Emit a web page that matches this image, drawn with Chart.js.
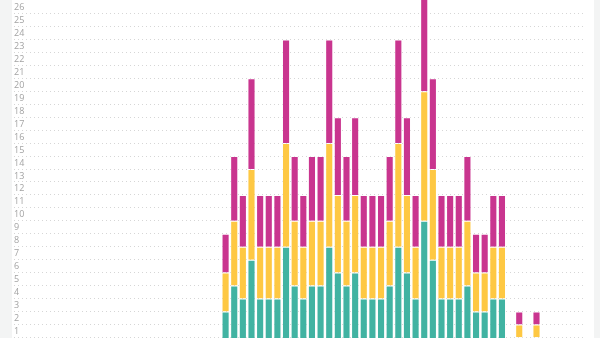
<!DOCTYPE html>
<html>
<head>
<meta charset="utf-8">
<script src="https://cdn.jsdelivr.net/npm/chart.js@4"></script>
<style>
  html, body { margin: 0; padding: 0; background: #f3f4f4; overflow: hidden; width: 600px; height: 338px; }
  #panel { position: absolute; left: 12px; top: 0; width: 582px; height: 338px; background: #fff; overflow: hidden; }
  #wrap { position: absolute; left: 0; top: 0; width: 582px; height: 362px; }
</style>
</head>
<body>
<div id="panel"><div id="wrap"><canvas id="stackChart"></canvas></div></div>
<script>
// 66 slots, first 24 empty
const categories = Array.from({ length: 66 }, (_, i) => 'D' + (i + 1));

const tealValues = [0,0,0,0,0,0,0,0,0,0,0,0,0,0,0,0,0,0,0,0,0,0,0,0,
  3,5,4,7,4,4,4,8,5,4,5,5,8,6,5,6,4,4,4,5,8,6,4,10,7,4,4,4,5,3,3,4,4,0,1,0,1,0,0,0,0,0];
const yellowValues = [0,0,0,0,0,0,0,0,0,0,0,0,0,0,0,0,0,0,0,0,0,0,0,0,
  3,5,4,7,4,4,4,8,5,4,5,5,8,6,5,6,4,4,4,5,8,6,4,10,7,4,4,4,5,3,3,4,4,0,1,0,1,0,0,0,0,0];
const magentaValues = [0,0,0,0,0,0,0,0,0,0,0,0,0,0,0,0,0,0,0,0,0,0,0,0,
  3,5,4,7,4,4,4,8,5,4,5,5,8,6,5,6,4,4,4,5,8,6,4,10,7,4,4,4,5,3,3,4,4,0,1,0,1,0,0,0,0,0];

const yMax = 26;

const ctx = document.getElementById('stackChart').getContext('2d');
new Chart(ctx, {
    type: 'bar',
    data: {
        labels: categories,
        datasets: [
            { label: 'A', data: tealValues, backgroundColor: '#41b3a2' },
            { label: 'B', data: yellowValues, backgroundColor: '#fec843' },
            { label: 'C', data: magentaValues, backgroundColor: '#c9358f' }
        ]
    },
    options: {
        responsive: true,
        maintainAspectRatio: false,
        animation: false,
        layout: { padding: { left: 2, right: 10, top: 13.6, bottom: 11.7 } },
        datasets: {
            bar: {
                categoryPercentage: 1,
                barPercentage: 0.94,
                borderWidth: 1,
                borderColor: 'rgba(255,255,255,0.35)',
                clip: false
            }
        },
        plugins: {
            legend: { display: false },
            tooltip: { enabled: false }
        },
        scales: {
            x: {
                stacked: true,
                display: false
            },
            y: {
                stacked: true,
                min: 0,
                max: yMax,
                grid: { color: '#d6d6d6', drawTicks: false, lineWidth: 1 },
                border: { display: false, dash: [1, 3] },
                ticks: {
                    stepSize: 1,
                    autoSkip: false,
                    mirror: true,
                    padding: 0,
                    labelOffset: -6,
                    color: '#a3a3a3',
                    font: { family: 'Open Sans', size: 9 },
                    callback: (v) => v === 0 ? '' : v
                }
            }
        }
    }
});
</script>
</body>
</html>
